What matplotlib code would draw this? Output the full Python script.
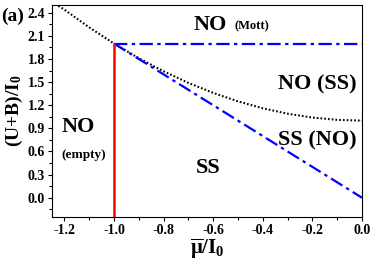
import numpy as np
import matplotlib
matplotlib.use("Agg")
import matplotlib.pyplot as plt
from matplotlib.ticker import MultipleLocator

plt.rcParams['font.family'] = ['Liberation Serif', 'DejaVu Serif']
plt.rcParams['font.weight'] = 'bold'
plt.rcParams['mathtext.fontset'] = 'custom'
plt.rcParams['mathtext.rm'] = 'Liberation Serif:bold'
plt.rcParams['mathtext.it'] = 'Liberation Serif:bold'
plt.rcParams['mathtext.bf'] = 'Liberation Serif:bold'

# dotted boundary
mu_dot = [-1.25, -1.2, -1.1, -1.0, -0.9, -0.8, -0.7, -0.6, -0.5, -0.4, -0.3, -0.2, -0.1, 0.0]
y_dot = [2.54, 2.44, 2.21, 2.0, 1.81, 1.64, 1.49, 1.36, 1.25, 1.16, 1.09, 1.04, 1.01, 1.0]

# blue dash-dot boundaries
mu_mott = [-1.0, 0.0]
y_mott = [2.0, 2.0]
mu_diag = [-1.0, 0.0]
y_diag = [2.0, 0.0]

# red vertical boundary
mu_red = [-1.0, -1.0]
y_red = [-0.25, 2.0]

xticks = [-1.2, -1.0, -0.8, -0.6, -0.4, -0.2, 0.0]
yticks = [0.0, 0.3, 0.6, 0.9, 1.2, 1.5, 1.8, 2.1, 2.4]

fig = plt.figure(figsize=(3.74, 2.65), dpi=100)
ax = fig.add_axes([52 / 374, 1 - 217 / 265, 310 / 374, 212 / 265])

ax.plot(mu_dot, y_dot, color='black', linestyle=(0, (0.8, 1.0)), linewidth=1.5)
ax.plot(mu_mott, y_mott, color='blue', linestyle=(0, (6, 2, 1.5, 2)), linewidth=1.6)
ax.plot(mu_diag, y_diag, color='blue', linestyle=(0, (6, 2, 1.5, 2)), linewidth=1.6)
ax.plot(mu_red, y_red, color='red', linewidth=1.8)

ax.set_xlim(-1.25, 0.0)
ax.set_ylim(-0.25, 2.5)
ax.set_xticks(xticks)
ax.set_xticklabels(['%.1f' % v for v in xticks])
ax.set_yticks(yticks)
ax.set_yticklabels(['%.1f' % v for v in yticks])
ax.xaxis.set_minor_locator(MultipleLocator(0.1))
ax.yaxis.set_minor_locator(MultipleLocator(0.15))
ax.tick_params(which='both', direction='out', labelsize=10, top=False, right=False)
ax.tick_params(which='major', length=3, width=0.8, pad=2)
ax.tick_params(which='minor', length=2, width=0.8)
for lab in ax.get_xticklabels() + ax.get_yticklabels():
    lab.set_fontweight('bold')

ax.set_xlabel(r'$\overline{\mathrm{\mu}}/\mathrm{I}_0$', fontsize=15, labelpad=0)
ax.set_ylabel(r'$(\mathrm{U{+}B})/\mathrm{I}_0$', fontsize=14, labelpad=2)

ax.text(-1.212, 0.85, 'NO', fontsize=16, fontweight='bold')
ax.text(-1.212, 0.52, '(empty)', fontsize=9.5, fontweight='bold')
ax.text(-0.68, 2.17, 'NO', fontsize=16, fontweight='bold')
ax.text(-0.515, 2.18, '(Mott)', fontsize=9, fontweight='bold')
ax.text(-0.02, 1.4, 'NO (SS)', fontsize=16, fontweight='bold', ha='right')
ax.text(-0.02, 0.68, 'SS (NO)', fontsize=16, fontweight='bold', ha='right')
ax.text(-0.67, 0.32, 'SS', fontsize=16, fontweight='bold')

fig.text(1 / 374, 1 - 21 / 265, '(a)', fontsize=14, fontweight='bold')

fig.savefig('out.png', dpi=100)
